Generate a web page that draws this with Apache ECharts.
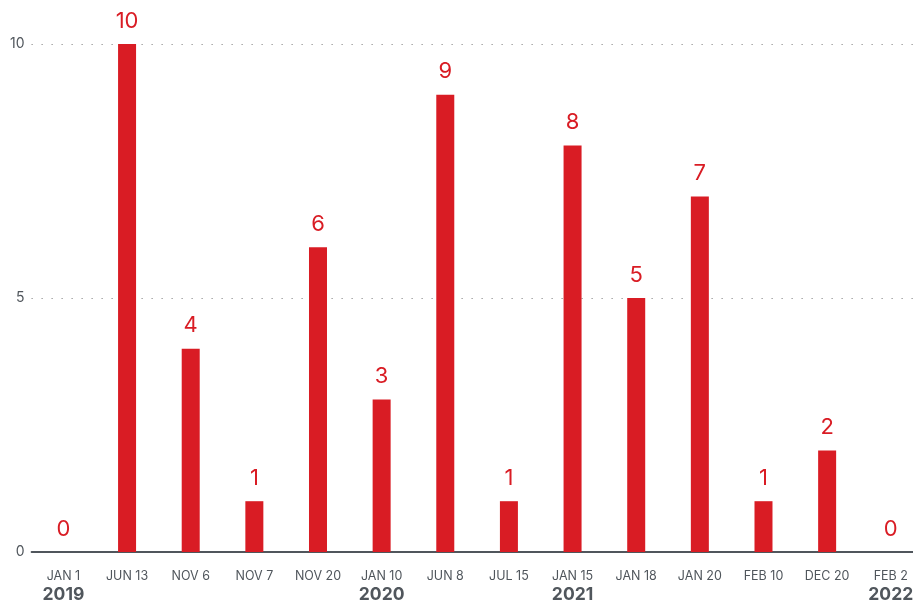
<!DOCTYPE html>
<html><head><meta charset="utf-8">
<script src="https://cdn.jsdelivr.net/npm/echarts@6/dist/echarts.min.js"></script>
<style>html,body{margin:0;padding:0;background:#fff}#c{width:913px;height:603px}</style>
</head><body><div id="c"></div>
<script>
const categories = ['JAN 1','JUN 13','NOV 6','NOV 7','NOV 20','JAN 10','JUN 8','JUL 15','JAN 15','JAN 18','JAN 20','FEB 10','DEC 20','FEB 2'];
const years = ['2019','','','','','2020','','','2021','','','','','2022'];
const values = [0,10,4,1,6,3,9,1,8,5,7,1,2,0];

const chart = echarts.init(document.getElementById('c'));
chart.setOption({
  animation:false,
  grid:{left:31.6,width:891,top:44,bottom:51,containLabel:false,outerBoundsMode:'none'},
  xAxis:{
    type:'category',data:categories,
    axisLine:{show:true,lineStyle:{color:'#50565c',width:2}},
    axisTick:{show:false},
    axisLabel:{
      interval:0,margin:16,
      formatter:(v,i)=> '{m|'+v+'}\n{y|'+(years[i]||' ')+'}',
      rich:{
        m:{fontFamily:'Inter',fontSize:12.5,color:'#50565c',lineHeight:17},
        y:{fontFamily:'Inter',fontSize:17.5,fontWeight:'bold',color:'#50565c',lineHeight:19}
      }
    }
  },
  yAxis:{
    type:'value',min:0,max:10,interval:5,
    axisLine:{show:false},axisTick:{show:false},
    axisLabel:{fontFamily:'Inter',fontSize:14,color:'#50565c',margin:7},
    splitLine:{show:true,lineStyle:{color:'#777',width:1,type:[1,9]}}
  },
  series:[{
    type:'bar',data:values,barWidth:18,
    itemStyle:{color:'#d91c24'},
    label:{show:true,position:'top',distance:12,fontFamily:'Inter',fontSize:22,color:'#d91c24'}
  }]
});
</script></body></html>
